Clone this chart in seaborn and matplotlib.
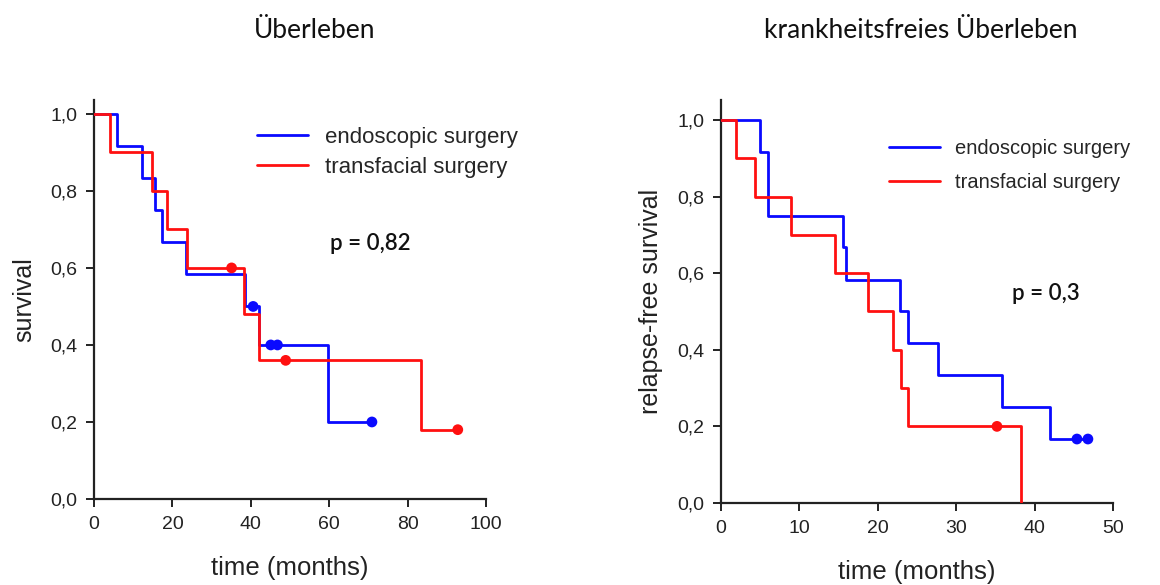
import matplotlib
matplotlib.use("Agg")
import matplotlib.pyplot as plt
import seaborn as sns
import pandas as pd

# ---- data ----
# Overall survival (left)
os_endo_t = [0, 5.8, 12.2, 15.6, 17.4, 23.5, 38.5, 42.0, 59.6, 70.9]
os_endo_s = [1.0, 0.917, 0.833, 0.75, 0.667, 0.583, 0.5, 0.4, 0.2, 0.2]
os_endo_cens_t = [40.6, 45.1, 46.8, 70.9]
os_endo_cens_s = [0.5, 0.4, 0.4, 0.2]

os_trans_t = [0, 4.1, 14.7, 18.7, 23.8, 38.2, 42.2, 83.4, 92.8]
os_trans_s = [1.0, 0.9, 0.8, 0.7, 0.6, 0.48, 0.36, 0.18, 0.18]
os_trans_cens_t = [35.1, 48.9, 92.8]
os_trans_cens_s = [0.6, 0.36, 0.18]

# Relapse-free survival (right)
rfs_endo_t = [0, 5.0, 6.0, 15.6, 15.9, 22.8, 23.9, 27.7, 35.9, 42.0, 46.8]
rfs_endo_s = [1.0, 0.917, 0.75, 0.667, 0.583, 0.5, 0.417, 0.333, 0.25, 0.167, 0.167]
rfs_endo_cens_t = [45.4, 46.8]
rfs_endo_cens_s = [0.167, 0.167]

rfs_trans_t = [0, 1.9, 4.3, 8.9, 14.6, 18.7, 22.0, 23.0, 23.9, 38.3]
rfs_trans_s = [1.0, 0.9, 0.8, 0.7, 0.6, 0.5, 0.4, 0.3, 0.2, 0.0]
rfs_trans_cens_t = [35.2]
rfs_trans_cens_s = [0.2]

series_names = ["endoscopic surgery", "transfacial surgery"]
titles = ["Überleben", "krankheitsfreies Überleben"]
ylabels = ["survival", "relapse-free survival"]
xlabel = "time (months)"
p_texts = ["p = 0,82", "p = 0,3"]
yticks = [0.0, 0.2, 0.4, 0.6, 0.8, 1.0]
ytick_labels = ["0,0", "0,2", "0,4", "0,6", "0,8", "1,0"]
xticks_left = [0, 20, 40, 60, 80, 100]
xticks_right = [0, 10, 20, 30, 40, 50]

BLUE = "#0a0aff"
RED = "#ff1010"

sns.set_style("ticks")
plt.rcParams["font.family"] = ["Liberation Sans", "DejaVu Sans"]

fig = plt.figure(figsize=(11.6, 5.85), dpi=100)
axL = fig.add_axes([94 / 1160, 1 - 499 / 585, 392 / 1160, 399 / 585])
axR = fig.add_axes([721 / 1160, 1 - 503 / 585, 392 / 1160, 403 / 585])


def draw(ax, curves, xlim, ylim_top, xticks, ylab, leg_fs, leg_anchor, leg_sp,
         leg_hl, ptxt, ppos):
    for t, s, ct, cs, col, name in curves:
        df = pd.DataFrame({"t": t, "s": s})
        sns.lineplot(data=df, x="t", y="s", ax=ax, color=col, lw=2.0,
                     drawstyle="steps-post", estimator=None, sort=False,
                     label=name, zorder=3)
        dc = pd.DataFrame({"t": ct, "s": cs})
        sns.scatterplot(data=dc, x="t", y="s", ax=ax, color=col, s=60,
                        edgecolor="none", zorder=4, legend=False)
    ax.set_xlim(*xlim)
    ax.set_ylim(0, ylim_top)
    ax.set_xticks(xticks)
    ax.set_xticklabels([str(v) for v in xticks])
    ax.set_yticks(yticks)
    ax.set_yticklabels(ytick_labels)
    ax.tick_params(direction="out", length=6, width=1.4, labelsize=14,
                   colors="#222222", pad=6)
    for sp in ["top", "right"]:
        ax.spines[sp].set_visible(False)
    for sp in ["left", "bottom"]:
        ax.spines[sp].set_linewidth(1.6)
        ax.spines[sp].set_color("#222222")
    ax.set_xlabel(xlabel, fontsize=18.5, labelpad=17, color="#222222")
    ax.set_ylabel(ylab, fontsize=18, labelpad=10, color="#222222")
    leg = ax.legend(loc="upper left", bbox_to_anchor=leg_anchor, frameon=False,
                    fontsize=leg_fs, handlelength=leg_hl, handletextpad=0.75,
                    labelspacing=leg_sp, borderaxespad=0, borderpad=0)
    for line in leg.get_lines():
        line.set_linewidth(2.0)
    ax.text(ppos[0], ppos[1], ptxt, transform=ax.transAxes, ha="center",
            va="center", fontsize=16, family=["Lato", "DejaVu Sans"],
            fontweight="semibold", color="#111111")


draw(axL,
     [(os_endo_t, os_endo_s, os_endo_cens_t, os_endo_cens_s, BLUE, series_names[0]),
      (os_trans_t, os_trans_s, os_trans_cens_t, os_trans_cens_s, RED, series_names[1])],
     (0, 100), 1.036, xticks_left, ylabels[0], 16, (0.416, 0.932), 0.4, 2.3,
     p_texts[0], (0.705, 0.64))
draw(axR,
     [(rfs_endo_t, rfs_endo_s, rfs_endo_cens_t, rfs_endo_cens_s, BLUE, series_names[0]),
      (rfs_trans_t, rfs_trans_s, rfs_trans_cens_t, rfs_trans_cens_s, RED, series_names[1])],
     (0, 50), 1.052, xticks_right, ylabels[1], 14.5, (0.428, 0.902), 0.7, 2.55,
     p_texts[1], (0.83, 0.52))

fig.text(315 / 1160, 1 - 30 / 585, titles[0], ha="center", va="center",
         fontsize=19, family=["Lato", "DejaVu Sans"], color="#111111")
fig.text(921 / 1160, 1 - 30 / 585, titles[1], ha="center", va="center",
         fontsize=19, family=["Lato", "DejaVu Sans"], color="#111111")

fig.savefig("out.png", dpi=100, facecolor="white")
